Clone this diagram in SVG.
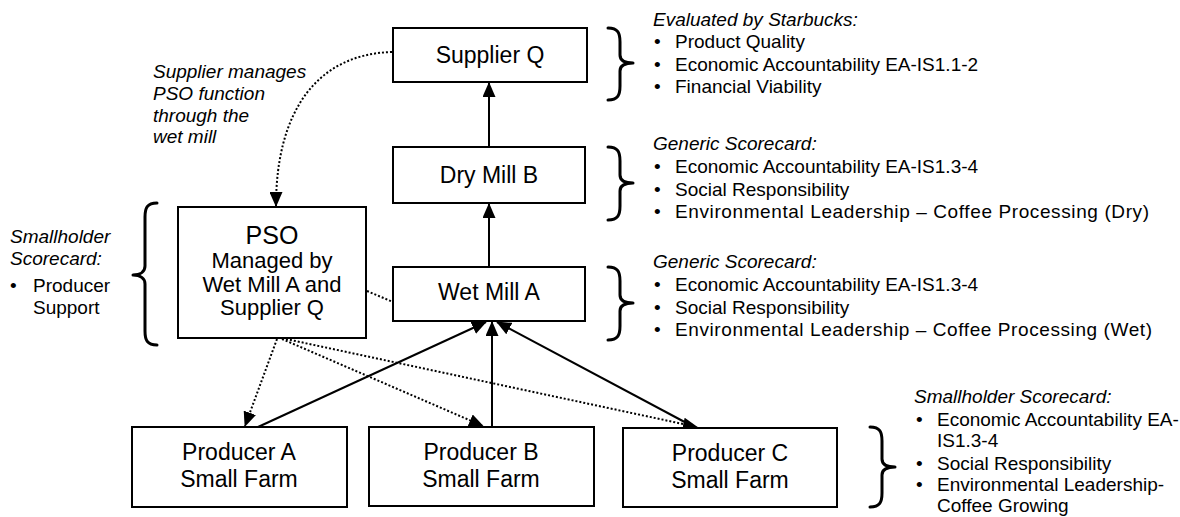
<svg xmlns="http://www.w3.org/2000/svg" width="1180" height="517" viewBox="0 0 1180 517">
<style>
text{font-family:"Liberation Sans",Arial,sans-serif;fill:#000}
.n{font-size:23px;text-anchor:middle}
.s{font-size:22px;text-anchor:middle}
.a{font-size:19px}
.i{font-style:italic}
.box{fill:#fff;stroke:#000;stroke-width:2}
.sol{fill:none;stroke:#000;stroke-width:2}
.dot{fill:none;stroke:#000;stroke-width:2;stroke-dasharray:2 2}
.br{fill:none;stroke:#000;stroke-width:3;stroke-linecap:round;stroke-linejoin:round}
</style>
<defs>
<marker id="ah" markerWidth="15" markerHeight="13" refX="14" refY="6.5" orient="auto" markerUnits="userSpaceOnUse">
<path d="M0,0 L15,6.5 L0,13 Z" fill="#000"/>
</marker>
</defs>
<rect width="1180" height="517" fill="#fff"/>

<g id="connectors">
<path class="dot" d="M392,52 C318,54 276,110 276,206" marker-end="url(#ah)"/>
<line class="sol" x1="489" y1="147" x2="489" y2="83" marker-end="url(#ah)"/>
<line class="sol" x1="489" y1="267" x2="489" y2="204" marker-end="url(#ah)"/>
<line class="dot" x1="367" y1="291" x2="393" y2="302"/>
<line class="sol" x1="258" y1="427" x2="486" y2="322" marker-end="url(#ah)"/>
<line class="sol" x1="492" y1="427" x2="492" y2="322" marker-end="url(#ah)"/>
<line class="sol" x1="694" y1="427" x2="497" y2="322" marker-end="url(#ah)"/>
<line class="dot" x1="277" y1="339" x2="245" y2="426" marker-end="url(#ah)"/>
<line class="dot" x1="282" y1="339" x2="483" y2="426" marker-end="url(#ah)"/>
<line class="dot" x1="286" y1="339" x2="697" y2="427" marker-end="url(#ah)"/>
</g>

<g id="supplierQ">
<rect class="box" x="393" y="28" width="194" height="54"/>
<text class="n" x="490" y="63">Supplier Q</text>
</g>
<g id="dryMillB">
<rect class="box" x="393" y="147" width="192" height="56"/>
<text class="n" x="489" y="183">Dry Mill B</text>
</g>
<g id="wetMillA">
<rect class="box" x="393" y="267" width="192" height="54"/>
<text class="n" x="489" y="300">Wet Mill A</text>
</g>
<g id="pso">
<rect class="box" x="178" y="207" width="188" height="131"/>
<text class="n" x="272" y="244" style="font-size:25px">PSO</text>
<text class="s" x="272" y="268">Managed by</text>
<text class="s" x="272" y="292">Wet Mill A and</text>
<text class="s" x="272" y="315">Supplier Q</text>
</g>
<g id="producerA">
<rect class="box" x="132" y="427" width="215" height="80"/>
<text class="n" x="239" y="460">Producer A</text>
<text class="n" x="239" y="487">Small Farm</text>
</g>
<g id="producerB">
<rect class="box" x="369" y="427" width="225" height="79"/>
<text class="n" x="481" y="460">Producer B</text>
<text class="n" x="481" y="487">Small Farm</text>
</g>
<g id="producerC">
<rect class="box" x="623" y="428" width="214" height="79"/>
<text class="n" x="730" y="461">Producer C</text>
<text class="n" x="730" y="488">Small Farm</text>
</g>

<g id="note-supplier">
<text class="a i" x="153" y="78">Supplier manages</text>
<text class="a i" x="153" y="100">PSO function</text>
<text class="a i" x="153" y="122">through the</text>
<text class="a i" x="153" y="143">wet mill</text>
</g>

<g id="braces">
<path class="br" d="M608,28 C618,28 620,33 620,42 L620,55 C620,60 624,63 633,63 C624,63 620,66 620,71 L620,86 C620,95 618,100 608,100"/>
<path class="br" d="M608,147 C618,147 620,152 620,161 L620,175 C620,180 624,183 633,183 C624,183 620,186 620,191 L620,206 C620,215 618,220 608,220"/>
<path class="br" d="M608,267 C618,267 620,272 620,281 L620,295 C620,300 624,303 633,303 C624,303 620,306 620,311 L620,326 C620,335 618,340 608,340"/>
<path class="br" d="M870,427 C880,427 882,432 882,441 L882,459 C882,464 886,467 895,467 C886,467 882,470 882,475 L882,493 C882,502 880,507 870,507"/>
<path class="br" d="M157,203 C147,203 145,208 145,217 L145,266 C145,271 141,275 133,275 C141,275 145,279 145,284 L145,331 C145,340 147,345 157,345"/>
</g>

<g id="note-left">
<text class="a i" x="10" y="243">Smallholder</text>
<text class="a i" x="10" y="265">Scorecard:</text>
<text class="a" x="10" y="292">•</text>
<text class="a" x="33" y="292">Producer</text>
<text class="a" x="33" y="314">Support</text>
</g>

<g id="note-supplierQ">
<text class="a i" x="653" y="26">Evaluated by Starbucks:</text>
<text class="a" x="654" y="48">•</text><text class="a" x="675" y="48">Product Quality</text>
<text class="a" x="654" y="71">•</text><text class="a" x="675" y="71">Economic Accountability EA-IS1.1-2</text>
<text class="a" x="654" y="93">•</text><text class="a" x="675" y="93">Financial Viability</text>
</g>
<g id="note-dry">
<text class="a i" x="653" y="150">Generic Scorecard:</text>
<text class="a" x="654" y="173">•</text><text class="a" x="675" y="173">Economic Accountability EA-IS1.3-4</text>
<text class="a" x="654" y="196">•</text><text class="a" x="675" y="196">Social Responsibility</text>
<text class="a" x="654" y="218">•</text><text class="a" x="675" y="218" textLength="474" lengthAdjust="spacing">Environmental Leadership – Coffee Processing (Dry)</text>
</g>
<g id="note-wet">
<text class="a i" x="653" y="268">Generic Scorecard:</text>
<text class="a" x="654" y="291">•</text><text class="a" x="675" y="291">Economic Accountability EA-IS1.3-4</text>
<text class="a" x="654" y="314">•</text><text class="a" x="675" y="314">Social Responsibility</text>
<text class="a" x="654" y="336">•</text><text class="a" x="675" y="336" textLength="477" lengthAdjust="spacing">Environmental Leadership – Coffee Processing (Wet)</text>
</g>
<g id="note-farms">
<text class="a i" x="914" y="403">Smallholder Scorecard:</text>
<text class="a" x="916" y="426">•</text><text class="a" x="937" y="426">Economic Accountability EA-</text>
<text class="a" x="937" y="447">IS1.3-4</text>
<text class="a" x="916" y="470">•</text><text class="a" x="937" y="470">Social Responsibility</text>
<text class="a" x="916" y="491">•</text><text class="a" x="937" y="491">Environmental Leadership-</text>
<text class="a" x="937" y="512">Coffee Growing</text>
</g>
</svg>
